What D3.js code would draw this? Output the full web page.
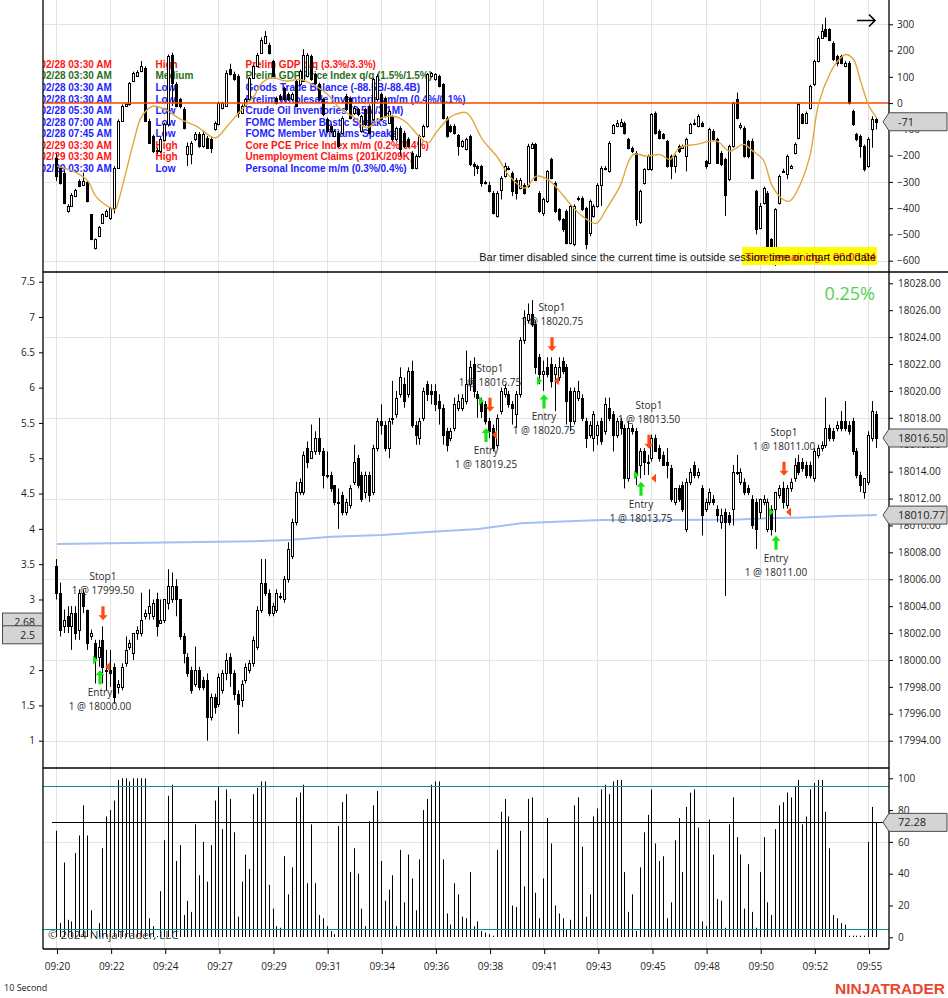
<!DOCTYPE html>
<html>
<head>
<meta charset="utf-8">
<script src="https://cdn.jsdelivr.net/npm/d3@7"></script>
<style>
  body { margin: 0; background: #fff; }
  svg { display: block; }
</style>
</head>
<body>
<svg id="chart" width="948" height="998"></svg>
<script>
// ---- data ----
const timeLabels = ["09:20","09:22","09:24","09:27","09:29","09:31","09:34","09:36","09:38","09:41","09:43","09:45","09:48","09:50","09:52","09:55"];

const eventTimes = ["02/28 03:30 AM","02/28 03:30 AM","02/28 03:30 AM","02/28 03:30 AM","02/28 05:30 AM","02/28 07:00 AM","02/28 07:45 AM","02/29 03:30 AM","02/29 03:30 AM","02/29 03:30 AM"];
const eventImpact = ["High","Medium","Low","Low","Low","Low","Low","High","High","Low"];
const eventNames = ["Prelim GDP q/q (3.3%/3.3%)","Prelim GDP Price Index q/q (1.5%/1.5%)","Goods Trade Balance (-88.5B/-88.4B)","Prelim Wholesale Inventories m/m (0.4%/0.1%)","Crude Oil Inventories (8.5M/3.1M)","FOMC Member Bostic Speaks","FOMC Member Williams Speaks","Core PCE Price Index m/m (0.2%/0.4%)","Unemployment Claims (201K/209K)","Personal Income m/m (0.3%/0.4%)"];

// top oscillator candles [open, high, low, close]
const topBars = [
[-208,-192,-297,-278],[-246,-240,-310,-303],[-265,-258,-385,-379],[-411,-385,-417,-392],[-392,-343,-395,-348],[-354,-326,-358,-331],[-297,-290,-320,-316],[-310,-265,-316,-297],[-301,-296,-378,-373],[-424,-424,-522,-519],
[-551,-515,-557,-519],[-507,-468,-510,-472],[-456,-420,-460,-424],[-430,-405,-434,-411],[-437,-395,-445,-399],[-399,-240,-420,-246],[-246,-62,-250,-68],[-68,-5,-72,-11],[-11,0,-15,-5],[-5,80,-10,77],
[84,120,80,116],[105,125,100,118],[122,160,118,141],[135,140,-72,-68],[-68,-60,-156,-151],[-126,-120,-190,-183],[-183,-170,-195,-178],[-183,-130,-190,-138],[-140,-75,-145,-80],[-80,185,-90,180],
[185,192,-11,78],[71,80,-16,-11],[14,20,-20,-11],[-24,-15,-100,-94],[-195,-150,-240,-164],[-195,-145,-233,-151],[-138,-110,-145,-119],[-119,-110,-170,-164],[-164,-105,-170,-119],[-132,-125,-175,-170],
[-138,-130,-190,-170],[-100,-70,-105,-75],[-81,5,-85,1],[-18,5,-24,1],[-11,125,-15,116],[128,150,105,109],[109,120,85,90],[103,110,-56,-37],[-37,-5,-40,-11],[-11,20,-15,14],
[14,100,10,97],[97,145,94,141],[141,190,138,185],[192,250,188,242],[230,274,225,255],[223,230,185,192],[160,165,98,103],[20,25,-5,1],[27,35,10,14],[58,62,8,14],
[33,40,8,14],[14,40,8,33],[84,88,-16,-11],[71,128,65,122],[84,205,80,185],[103,190,98,185],[179,185,85,90],[109,115,72,78],[71,78,8,14],[14,20,-50,-43],
[-62,-55,-113,-107],[-88,-80,-115,-107],[-126,-100,-130,-107],[-113,-105,-170,-164],[-113,-50,-120,-56],[27,35,-30,-24],[20,25,-62,-56],[-37,-10,-45,-18],[-24,-18,-50,-43],[-107,-45,-113,-50],
[-24,-18,-88,-81],[-11,-5,-120,-113],[-62,95,-68,90],[14,110,8,103],[33,40,-68,-62],[20,25,-56,-50],[-75,-25,-80,-30],[-50,-45,-145,-138],[-138,-90,-145,-94],[-94,-88,-200,-176],
[-113,-105,-170,-164],[-138,-130,-170,-164],[-189,-183,-252,-246],[-246,-195,-252,-202],[-202,-120,-208,-126],[-126,-82,-132,-88],[-88,114,-94,109],[103,118,98,116],[90,114,85,109],[103,108,60,65],
[71,76,-62,-56],[-56,-50,-132,-126],[-88,-82,-113,-107],[-88,-80,-120,-113],[-123,-118,-200,-164],[-164,-140,-170,-145],[-176,-132,-180,-138],[-126,-120,-240,-233],[-230,-225,-278,-240],[-240,-235,-270,-246],
[-240,-235,-318,-303],[-301,-295,-310,-303],[-310,-300,-340,-335],[-341,-335,-424,-418],[-430,-335,-436,-341],[-329,-278,-367,-284],[-278,-227,-284,-240],[-252,-240,-256,-246],[-265,-260,-354,-335],[-291,-285,-367,-341],
[-322,-285,-328,-291],[-310,-305,-348,-341],[-316,-155,-322,-164],[-170,-150,-175,-157],[-157,-152,-297,-291],[-341,-335,-418,-411],[-418,-360,-430,-367],[-373,-255,-380,-259],[-214,-208,-290,-284],[-303,-298,-418,-411],
[-405,-400,-450,-443],[-443,-438,-490,-481],[-411,-405,-538,-532],[-532,-388,-538,-392],[-538,-385,-545,-392],[-361,-355,-372,-367],[-361,-355,-411,-405],[-399,-395,-557,-538],[-494,-367,-507,-373],[-430,-385,-436,-392],
[-392,-305,-398,-310],[-310,-240,-392,-246],[-252,-240,-256,-246],[-259,-145,-265,-151],[-113,-80,-118,-85],[-88,-65,-92,-75],[-88,-60,-92,-72],[-75,-70,-120,-113],[-138,-132,-176,-170],[-170,-165,-190,-183],
[-189,-183,-468,-443],[-453,-330,-460,-335],[-303,-248,-310,-252],[-252,-196,-256,-202],[-252,-38,-258,-43],[-37,-32,-120,-113],[-107,-100,-138,-132],[-119,-114,-138,-132],[-145,-140,-246,-240],[-202,-196,-290,-240],
[-240,-196,-265,-202],[-164,-158,-190,-183],[-170,-158,-175,-164],[-202,-132,-260,-138],[-113,-75,-118,-81],[-75,-62,-85,-75],[-88,-43,-92,-50],[-75,-70,-92,-88],[-221,-216,-250,-240],[-227,-94,-232,-100],
[-107,-100,-145,-138],[-138,-132,-232,-227],[-189,-183,-240,-233],[-214,-208,-430,-348],[-290,-158,-297,-164],[-164,5,-170,1],[14,40,-62,-56],[-91,-75,-100,-84],[-94,-88,-208,-202],[-145,-140,-210,-202],
[-145,-135,-290,-284],[-335,-330,-500,-481],[-475,-380,-480,-392],[-380,-318,-386,-322],[-341,-335,-576,-570],[-519,-514,-580,-570],[-570,-400,-620,-405],[-379,-272,-386,-278],[-259,-250,-265,-259],[-271,-196,-290,-202],
[-246,-235,-250,-240],[-189,-150,-195,-157],[-132,0,-138,-5],[-43,-38,-80,-75],[-75,-32,-80,-37],[-18,70,-24,65],[71,165,65,160],[160,255,155,249],[249,300,245,274],[281,325,250,255],
[281,285,236,242],[230,235,160,166],[179,184,140,154],[179,184,148,154],[141,160,136,154],[154,160,-5,1],[-30,-25,-87,-81],[-119,-113,-145,-138],[-126,-120,-208,-164],[-164,-158,-260,-252],
[-240,-130,-246,-138],[-100,-50,-170,-62],[-62,-55,-100,-71]
];

// orange smoothing line on the top panel (bar index / value)
const smaIdx = [0,5,8,10,13,15,16,18,20,21.5,23,25,28,32,36,41,44,47,51,53,56,59,63,66,70,73,77,80,84,87,90,94,96,98,101,103,106,110,114,117,121,124,127.5,131,134,137,139.5,142,145.6,149,152.5,156,158.5,161,165.4,170.6,174,177.5,180,182.6,185,187.8,189.5,192,194.7,197,200,201.6,204,206,207.7,210,212];
const smaVal = [-240,-265,-297,-354,-392,-405,-367,-253,-138,-62,-30,-11,-24,-62,-88,-132,-88,-37,27,77,97,84,90,71,33,-18,-56,-94,-56,-50,-69,-132,-151,-113,-62,-43,-37,-138,-208,-278,-323,-278,-297,-354,-405,-443,-458,-405,-316,-196,-202,-196,-215,-170,-157,-145,-183,-157,-183,-215,-316,-367,-373,-316,-202,-1,116,154,185,166,90,-11,-56];

// price candles [open, high, low, close]
const mainBars = [
[18007,18007.5,18004.5,18005],[18005,18005.75,18001.75,18002.25],[18002.5,18003.75,18002,18003],[18003.25,18004,18002,18002.5],[18002.5,18004,18000.75,18003.5],[18003.5,18004,18001.5,18002],[18002.25,18005.25,18001.5,18005],[18005,18005.25,18003.5,18004],[18003.75,18003.75,18000.75,18001.25],[18001.75,18002.25,18001.5,18002],
[18001.25,18001.5,17998.25,18000],[18000.25,18001.5,17999.5,18001],[18001.5,18002.5,17998.25,17999.5],[17999.25,18000.75,17997.75,17999.25],[17999.25,18000.75,17998,17999],[17999.5,17999.75,17996.75,17997.25],[17998,17998.5,17997.5,17998.25],[17998,17999.75,17997.75,17999.5],[17999.75,18001.75,17999.5,18000.75],[18001,18001.5,18000.75,18001.25],
[18000.5,18002,18000,18002],[18002,18002.5,18001.5,18002.25],[18002,18005,18001.75,18003],[18003.25,18003.75,18003,18003.5],[18003.5,18005.25,18003,18004],[18003.25,18004.5,18003,18004.25],[18004.5,18005,18001.75,18002.5],[18002.75,18004.5,18002.75,18003],[18003,18004.5,18002.75,18004.5],[18004.25,18006.75,18003.75,18005.5],
[18004.5,18006.5,18004.25,18005.5],[18005.5,18006,18003.25,18004.5],[18004.5,18004.5,18001.5,18001.75],[18001.75,18002,17999.75,18000.5],[18000.25,18000.5,17998.75,17999],[17999.25,17999.5,17997.5,17997.75],[17998.25,18001,17998,17999.25],[17999.25,17999.5,17997.75,17998],[17998.5,17998.75,17997.75,17998],[17998.5,17999,17994,17995.75],
[17995.75,17997.5,17995.5,17997.25],[17997.25,17997.5,17996,17996.5],[17996.75,17999,17996.5,17998.75],[17997.75,17999.25,17997.5,17999],[17999,18000.5,17998.5,18000],[18000.25,18000.5,17998,17999],[17999,17999.25,17997,17997.5],[17997.5,17997.75,17994.5,17996.75],[17997,17998.5,17996.5,17998.25],[17998.5,17999.75,17998.25,17999.5],
[17999.25,18000,17999,17999.75],[17999.75,18001.75,17999.5,18001.5],[18001,18004,18000.75,18003.75],[18003.75,18007.5,18003.5,18005.75],[18005.75,18007.5,18004.75,18005],[18005,18005.25,18003.25,18003.5],[18003.5,18004.25,18003.25,18004],[18003.75,18005.25,18003.5,18005],[18004.75,18005,18004.5,18004.75],[18004.5,18006.25,18004.25,18006],
[18006,18008.75,18005.75,18008.25],[18007.75,18010.5,18007.5,18010.25],[18010.25,18013.25,18010,18012.5],[18012.5,18013.5,18012.25,18013.25],[18012.5,18015.5,18012.25,18015.25],[18015.75,18016.25,18014.25,18014.75],[18015,18017.5,18015,18015.5],[18015.5,18017,18015.25,18016.5],[18016.5,18018,18015.25,18015.5],[18015.5,18015.75,18012.75,18013.75],
[18013.75,18015.5,18013.5,18013.75],[18013.75,18014,18012.5,18012.75],[18013,18013,18011.5,18011.75],[18011.75,18012.75,18009.75,18011.75],[18012.25,18012.5,18010.75,18011],[18011,18012,18010.75,18011.75],[18011.5,18013,18011.25,18012.75],[18013.25,18016,18013,18014.75],[18015,18015.25,18012.75,18013],[18013.75,18014,18011.75,18012],
[18012.5,18014,18012,18013.75],[18013.75,18014,18011.75,18012.25],[18012.5,18016,18012.25,18015.75],[18015.75,18018,18015.5,18017.75],[18017.75,18019,18016.75,18017.5],[18017.5,18017.75,18015.5,18015.75],[18015.75,18018,18015,18017.75],[18018,18020.75,18017.5,18018],[18018.25,18020,18018,18019.5],[18019.75,18021.75,18019.5,18021],
[18020.5,18021,18018.75,18019.25],[18019.75,18021.75,18019.5,18021.5],[18021.5,18022.25,18017.25,18017.5],[18017.5,18017.75,18016,18016.75],[18016.5,18018,18016,18017.75],[18018,18020.25,18017.75,18020],[18020.5,18020.75,18019.25,18019.75],[18020,18020.5,18019,18019.75],[18020,18020.5,18018.5,18019],[18019.25,18019.75,18017.5,18018.75],
[18018.75,18019,18016,18016.75],[18017,18017.25,18015.5,18016],[18016.5,18017.25,18016.25,18017],[18017.25,18019.5,18017,18019],[18018.75,18019.75,18018.5,18019.25],[18018.75,18019.75,18018.5,18019.5],[18019.25,18023,18019,18020.5],[18020.5,18022.25,18020,18021.75],[18022,18022.5,18019.5,18020],[18019.75,18020,18018,18019.5],
[18019.25,18019.5,18018,18018.5],[18019,18019.25,18017.5,18017.75],[18017.75,18018,18016.5,18017],[18017.25,18017.5,18015.5,18015.75],[18016,18018.25,18015.75,18018],[18018.5,18020.25,18018.25,18020],[18019.75,18020.5,18019.5,18020.25],[18019.75,18020,18018.75,18019],[18019,18019.25,18017.5,18018.75],[18018.25,18020,18017.25,18019.75],
[18019.75,18024,18019.5,18023.75],[18023.75,18026,18023.5,18025.5],[18025.25,18026.5,18025,18025.75],[18025.75,18026.75,18024.75,18025],[18025,18025.25,18021.25,18021.75],[18022.5,18022.75,18020.5,18021.25],[18021.25,18022.25,18020,18021.5],[18021.75,18022.5,18021,18021.25],[18022,18022.5,18020.25,18020.75],[18021.25,18022,18018.5,18021.75],
[18021,18022.5,18020.75,18021.75],[18022.25,18022.5,18021.25,18021.5],[18021.75,18022,18017.5,18019.25],[18020,18020.25,18017,18017.75],[18017.75,18020.25,18017.5,18020],[18019.5,18020.75,18019.25,18020],[18019.5,18019.75,18017.75,18018],[18017.75,18018,18015.75,18016.5],[18016.75,18017.75,18016.5,18017.5],[18016.5,18018.5,18015.5,18018.25],
[18016.75,18017.75,18016,18017.5],[18017.75,18018,18016,18016.25],[18017,18019.5,18016.75,18019],[18018.75,18019.5,18017.75,18018],[18018.25,18018.5,18015.5,18016.75],[18016.75,18018,18016.5,18017.75],[18017.75,18018,18016.75,18017.25],[18017.25,18017.5,18012.75,18013.5],[18013.5,18017.75,18013.25,18017.25],[18017.25,18017.5,18016.75,18017],
[18017,18017.25,18013,18013.75],[18014.5,18015.75,18013.5,18015.5],[18015.5,18015.75,18013.75,18014.75],[18014.75,18015.25,18013.75,18014.75],[18015,18016.75,18014.75,18016.5],[18016.5,18016.75,18015.5,18015.5],[18015.75,18016,18014.75,18015],[18015.25,18015.5,18014.5,18014.5],[18014.75,18015.75,18013.5,18014.5],[18014.25,18014.5,18011.75,18012],
[18011.75,18012.75,18011.5,18012.75],[18012.75,18013,18011.75,18012],[18013,18013.25,18011,18011.25],[18009.75,18013.5,18009.5,18013.25],[18013.25,18014.25,18013,18014],[18014.5,18014.75,18013.5,18013.75],[18013.75,18014.25,18013.5,18014],[18012.75,18013,18009.25,18010.75],[18011.25,18012,18011,18011.75],[18011.75,18012.75,18011.5,18012.5],
[18012,18012.25,18011.5,18011.75],[18011.25,18011.5,18010.25,18010.75],[18010.25,18011.25,18009.75,18010.75],[18011,18011.25,18004.75,18010.25],[18010.75,18011,18010,18010.25],[18011.25,18014.5,18010,18014],[18014,18015.25,18013.75,18014],[18013.25,18014.25,18013,18014],[18013.25,18013.5,18012.25,18012.5],[18012.75,18013,18012.25,18012.5],
[18012,18012.25,18009.75,18010],[18011.75,18012,18008.25,18009.75],[18011,18012,18010.5,18012],[18011.75,18012.25,18011.5,18012],[18009.75,18012,18009.5,18011.75],[18011.25,18011.5,18009.25,18009.75],[18011.25,18012.5,18009.5,18012.5],[18012.25,18013,18012,18012.75],[18012.75,18013.25,18011.25,18011.75],[18011.5,18013,18011.25,18012.75],
[18012.75,18013.5,18012.5,18013.25],[18013.5,18015,18013.25,18014.5],[18014.75,18015.25,18013.75,18014],[18014.75,18015,18014,18014.25],[18014.5,18014.75,18013.5,18013.75],[18014.5,18014.75,18013.5,18013.75],[18013.5,18015.75,18013.25,18015.5],[18015.25,18016,18015,18015.75],[18015.75,18016.25,18015.5,18016],[18016,18019.5,18015.75,18017.25],
[18017.25,18017.5,18016.25,18016.5],[18017,18017.25,18016.25,18016.5],[18017.25,18017.75,18017,18017.5],[18017.75,18018.5,18017,18017.25],[18017.75,18019.25,18017,18017.25],[18017.5,18017.75,18016.75,18017],[18017.75,18018,18015.25,18015.5],[18015.5,18015.75,18013.5,18013.75],[18013.75,18014,18012.5,18013],[18012.5,18013.5,18012,18013.5],
[18013.25,18017,18013,18016.75],[18016.5,18019.25,18016.25,18018.5],[18018.25,18018.5,18015.75,18016.5]
];

// blue average line (bar index / price)
const vwapIdx = [0,23,51,60,71,84,97,109,120,129,141,158,176,184,193,202,212];
const vwapVal = [18008.62,18008.71,18008.82,18008.91,18009.16,18009.29,18009.53,18009.73,18010.16,18010.28,18010.40,18010.40,18010.45,18010.53,18010.60,18010.70,18010.77];

// executions
const entryBar = [11, 111, 126, 151, 186];
const entryPrice = [18000.00, 18019.25, 18020.75, 18013.75, 18011.00];
const exitBar = [12, 112, 128, 153, 188];
const exitPrice = [17999.50, 18016.75, 18020.75, 18013.50, 18011.00];

// lower panel histogram
const volume = [
67,9,47,11,10,53,64,83,64,17, 0,9,56,76,80,86,99,100,100,98, 100,100,100,100,12,7,0,29,61,89,
96,48,58,14,23,16,71,39,60,35, 58,86,95,68,93,87,66,13,35,52, 43,90,94,98,98,33,18,7,6,51,
27,44,88,91,96,34,71,34,14,12, 7,4,2,70,85,90,41,56,40,18, 7,73,83,92,48,23,30,39,7,55,
22,52,37,17,49,80,87,96,98,98, 49,15,8,34,27,13,12,41,7,10,
4,3,2,1,55,79,87,76,20,19, 67,32,87,88,28,12,37,75,59,20, 15,12,5,11,83,88,57,13,27,76,
81,93,96,90,98,99,99,41,16,27, 4,44,66,77,93,59,48,51,12,22, 61,75,41,82,91,93,69,10,7,74,
52,24,23,6,71,88,63,52,18,46, 16,6,41,63,22,14,68,83,85,91, 88,95,99,71,76,93,97,99,99,79,
56,14,12,9,8,1,1,1,1,1, 60,82,72.28
];
const volBands = [95, 5];
const leftTags = [2.68, 2.5];
const lastTop = -71, lastMain = 18016.50, lastVwap = 18010.77, lastVol = 72.28;

// ---- layout ----
const X0 = 43, X1 = 889;
const P = { top: [0, 272], main: [272, 768], vol: [768, 949] };
const AX = "Open Sans, Liberation Sans, sans-serif";
const EV = "Liberation Sans, Arial, sans-serif";

const x = d3.scaleLinear().domain([0, 210]).range([57, 869]);
const yTop = d3.scaleLinear().domain([-600, 300]).range([260.7, 24.3]);
const yMain = d3.scaleLinear().domain([17994, 18028]).range([740.7, 283.3]);
const yLeft = d3.scaleLinear().domain([1, 7.5]).range([740.7, 281.7]);
const yVol = d3.scaleLinear().domain([0, 100]).range([937.3, 778.3]);

const svg = d3.select("#chart");
const defs = svg.append("defs");
Object.entries(P).forEach(([k, [a, b]]) => {
  defs.append("clipPath").attr("id", "clip-" + k)
    .append("rect").attr("x", X0).attr("y", a).attr("width", X1 - X0).attr("height", b - a);
});

const px = i => Math.round(x(i)) - 0.5;

// grid
const grid = svg.append("g").attr("stroke", "#e3e3e3").attr("stroke-width", 1);
d3.range(0, 211, 14).forEach(i => {
  grid.append("line").attr("x1", px(i)).attr("x2", px(i)).attr("y1", 0).attr("y2", 949);
});
[300, -300, -600].forEach(v => grid.append("line").attr("x1", X0).attr("x2", X1)
  .attr("y1", Math.round(yTop(v)) + 0.5).attr("y2", Math.round(yTop(v)) + 0.5));
d3.range(17994, 18029, 6).forEach(v => grid.append("line").attr("x1", X0).attr("x2", X1)
  .attr("y1", Math.round(yMain(v)) + 0.5).attr("y2", Math.round(yMain(v)) + 0.5));
[60].forEach(v => grid.append("line").attr("x1", X0).attr("x2", X1)
  .attr("y1", Math.round(yVol(v)) + 0.5).attr("y2", Math.round(yVol(v)) + 0.5));

function drawCandles(g, bars, y) {
  const c = g.selectAll("g.c").data(bars).join("g").attr("class", "c");
  c.append("line")
    .attr("x1", (d, i) => px(i)).attr("x2", (d, i) => px(i))
    .attr("y1", d => y(d[1])).attr("y2", d => y(d[2]))
    .attr("stroke", "#000").attr("stroke-width", 1);
  c.append("rect")
    .attr("x", (d, i) => Math.round(x(i)) - 1.5)
    .attr("width", 2)
    .attr("y", d => Math.round(y(Math.max(d[0], d[3]))) + 0.5)
    .attr("height", d => Math.max(1, Math.round(y(Math.min(d[0], d[3]))) - Math.round(y(Math.max(d[0], d[3])))))
    .attr("fill", d => d[3] >= d[0] ? "#fff" : "#000")
    .attr("stroke", "#000").attr("stroke-width", 1);
}

// ---- top panel ----
const gTop = svg.append("g").attr("clip-path", "url(#clip-top)");
const impactColor = { High: "#ff1414", Medium: "#2a6e1a", Low: "#2323ff" };
const evG = gTop.append("g").attr("font-family", EV).attr("font-size", 10).attr("font-weight", "bold");
eventTimes.forEach((t, k) => {
  const yy = 64.3 + k * 11.55 + 3.6;
  const col = impactColor[eventImpact[k]];
  evG.append("text").attr("x", 40.5).attr("y", yy).attr("fill", col).text(t);
  evG.append("text").attr("x", 155.5).attr("y", yy).attr("fill", col).text(eventImpact[k]);
  evG.append("text").attr("x", 245.5).attr("y", yy).attr("fill", col).text(eventNames[k]);
});
drawCandles(gTop.append("g"), topBars, yTop);
gTop.append("line").attr("x1", X0).attr("x2", X1)
  .attr("y1", yTop(0)).attr("y2", yTop(0))
  .attr("stroke", "#ff4500").attr("stroke-width", 1.5);
gTop.append("path")
  .datum(smaIdx.map((d, k) => [d, smaVal[k]]))
  .attr("fill", "none").attr("stroke", "#e0a83c").attr("stroke-width", 1.4)
  .attr("d", d3.line().x(d => x(d[0])).y(d => yTop(d[1])).curve(d3.curveCatmullRom));

// timer messages
gTop.append("rect").attr("x", 742).attr("y", 247).attr("width", 135).attr("height", 18).attr("fill", "#ffff00");
gTop.append("text").attr("x", 745).attr("y", 260.5).attr("fill", "#ff2020")
  .attr("font-family", EV).attr("font-size", 11).text("Time remaining = 00:00:04");
gTop.append("text").attr("x", 876).attr("y", 260.5).attr("text-anchor", "end").attr("fill", "#111")
  .attr("font-family", EV).attr("font-size", 11)
  .text("Bar timer disabled since the current time is outside session time or chart end date");
// scroll arrow
svg.append("path").attr("d", "M857,20.5 H875 M869,14.5 L875,20.5 L869,26.5")
  .attr("fill", "none").attr("stroke", "#000").attr("stroke-width", 1.6);

// ---- main panel ----
const gMain = svg.append("g").attr("clip-path", "url(#clip-main)");
gMain.append("path")
  .datum(vwapIdx.map((d, k) => [d, vwapVal[k]]))
  .attr("fill", "none").attr("stroke", "#a3c0f3").attr("stroke-width", 2)
  .attr("d", d3.line().x(d => x(d[0])).y(d => yMain(d[1])));
drawCandles(gMain.append("g"), mainBars, yMain);

gMain.append("text").attr("x", 875).attr("y", 300).attr("text-anchor", "end")
  .attr("fill", "#52d152").attr("font-family", AX).attr("font-size", 18).text("0.25%");

const GREEN = "#14e614", RED = "#ff4a12";
const upArrow = "M0,0 L4.5,5 L1.6,5 L1.6,14 L-1.6,14 L-1.6,5 L-4.5,5 Z";
const downArrow = "M0,0 L4.5,-5 L1.6,-5 L1.6,-14 L-1.6,-14 L-1.6,-5 L-4.5,-5 Z";
const mk = gMain.append("g").attr("font-family", AX).attr("font-size", 10).attr("fill", "#2a2a2a");
entryBar.forEach((b, k) => {
  const ex = exitBar[k];
  // entry
  const xe = Math.round(x(b));
  const ye = yMain(mainBars[b][2]) + 3.5;
  mk.append("path").attr("d", upArrow).attr("transform", `translate(${xe},${ye})`).attr("fill", GREEN);
  mk.append("text").attr("x", xe).attr("y", ye + 26).attr("text-anchor", "middle").text("Entry");
  mk.append("text").attr("x", xe).attr("y", ye + 40).attr("text-anchor", "middle").text("1 @ " + entryPrice[k].toFixed(2));
  const yp = yMain(entryPrice[k]);
  mk.append("path").attr("d", `M${xe - 7},${yp - 4.5} L${xe - 2},${yp} L${xe - 7},${yp + 4.5} Z`).attr("fill", GREEN);
  // exit
  const xs = Math.round(x(ex));
  const ys = yMain(mainBars[ex][1]) - 6;
  mk.append("path").attr("d", downArrow).attr("transform", `translate(${xs},${ys})`).attr("fill", RED);
  mk.append("text").attr("x", xs).attr("y", ys - 40).attr("text-anchor", "middle").text("Stop1");
  mk.append("text").attr("x", xs).attr("y", ys - 26).attr("text-anchor", "middle").text("1 @ " + exitPrice[k].toFixed(2));
  const yq = yMain(exitPrice[k]);
  mk.append("path").attr("d", `M${xs + 7},${yq - 4.5} L${xs + 2},${yq} L${xs + 7},${yq + 4.5} Z`).attr("fill", RED);
});

// ---- lower panel ----
const gVol = svg.append("g").attr("clip-path", "url(#clip-vol)");
gVol.selectAll("line.v").data(volume).join("line").attr("class", "v")
  .attr("x1", (d, i) => px(i)).attr("x2", (d, i) => px(i))
  .attr("y1", Math.round(yVol(0))).attr("y2", d => Math.min(Math.round(yVol(0)) - 1, yVol(d)))
  .attr("stroke", "#000").attr("stroke-width", 1);
volBands.forEach(v => gVol.append("line").attr("x1", X0).attr("x2", X1)
  .attr("y1", Math.round(yVol(v)) + 0.5).attr("y2", Math.round(yVol(v)) + 0.5)
  .attr("stroke", "#0a8f8f").attr("stroke-width", 1.2));
gVol.append("line").attr("x1", 52).attr("x2", X1)
  .attr("y1", Math.round(yVol(lastVol)) + 0.5).attr("y2", Math.round(yVol(lastVol)) + 0.5)
  .attr("stroke", "#000").attr("stroke-width", 1.2);
gVol.append("text").attr("x", 48).attr("y", 939).attr("fill", "#3a3a3a")
  .attr("font-family", AX).attr("font-size", 11.5).text("\u00A9 2024 NinjaTrader, LLC");

// ---- frames ----
const fr = svg.append("g").attr("stroke", "#000").attr("stroke-width", 1.3);
fr.append("line").attr("x1", X0).attr("x2", X0).attr("y1", 0).attr("y2", 949);
fr.append("line").attr("x1", X1).attr("x2", X1).attr("y1", 0).attr("y2", 949);
fr.append("line").attr("x1", X0).attr("x2", 948).attr("y1", 272).attr("y2", 272);
fr.append("line").attr("x1", X0).attr("x2", X1).attr("y1", 768).attr("y2", 768);
fr.append("line").attr("x1", X0).attr("x2", X1).attr("y1", 949).attr("y2", 949);

// ---- axes ----
function styleAxis(g) {
  g.select(".domain").remove();
  g.attr("font-family", AX).attr("font-size", 10);
  g.selectAll("text").attr("fill", "#1e1e1e");
  g.selectAll("line").attr("stroke", "#000");
}
svg.append("g").attr("transform", `translate(${X1},0)`)
  .call(d3.axisRight(yTop).tickValues(d3.range(-600, 301, 100)).tickSize(4).tickPadding(4).tickFormat(d3.format("d")))
  .call(styleAxis);
svg.append("g").attr("transform", `translate(${X1},0)`)
  .call(d3.axisRight(yMain).tickValues(d3.range(17994, 18029, 2)).tickSize(4).tickPadding(5).tickFormat(d3.format(".2f")))
  .call(styleAxis);
svg.append("g").attr("transform", `translate(${X0},0)`)
  .call(d3.axisLeft(yLeft).tickValues(d3.range(1, 7.51, 0.5)).tickSize(4).tickPadding(4).tickFormat(d => String(+d.toFixed(1))))
  .call(styleAxis);
svg.append("g").attr("transform", `translate(${X1},0)`)
  .call(d3.axisRight(yVol).tickValues(d3.range(0, 101, 20)).tickSize(4).tickPadding(5))
  .call(styleAxis);
svg.append("g").attr("transform", "translate(0,949)")
  .call(d3.axisBottom(x).tickValues(d3.range(0, 211, 14)).tickSize(5).tickPadding(9).tickFormat((d, i) => timeLabels[i]))
  .call(styleAxis);

// ---- value tags ----
function rightTag(yv, label) {
  const h = 18, g = svg.append("g");
  g.append("path")
    .attr("d", `M883,${yv} L889,${yv - h / 2} L947,${yv - h / 2} L947,${yv + h / 2} L889,${yv + h / 2} Z`)
    .attr("fill", "#d4d4d4").attr("stroke", "#4a4a4a").attr("stroke-width", 1);
  g.append("text").attr("x", 898).attr("y", yv + 4).attr("font-family", AX).attr("font-size", 11)
    .attr("fill", "#1e1e1e").text(label);
}
rightTag(yTop(lastTop), String(lastTop));
rightTag(yMain(lastMain), lastMain.toFixed(2));
rightTag(yMain(lastVwap), lastVwap.toFixed(2));
rightTag(yVol(lastVol), lastVol.toFixed(2));

leftTags.forEach(v => {
  const yv = yLeft(v), g = svg.append("g");
  g.append("rect").attr("x", 2.5).attr("y", yv - 9).attr("width", 40).attr("height", 18)
    .attr("fill", "#d4d4d4").attr("stroke", "#4a4a4a").attr("stroke-width", 1);
  g.append("text").attr("x", 35).attr("y", yv + 4).attr("text-anchor", "end")
    .attr("font-family", AX).attr("font-size", 10.5).attr("fill", "#1e1e1e").text(String(v));
});

// ---- footer ----
svg.append("text").attr("x", 4).attr("y", 991).attr("font-family", AX).attr("font-size", 9)
  .attr("fill", "#222").text("10 Second");
svg.append("text").attr("x", 945).attr("y", 994).attr("text-anchor", "end")
  .attr("font-family", EV).attr("font-weight", "bold").attr("font-size", 15.5)
  .attr("fill", "#e8482c").text("NINJATRADER");
</script>
</body>
</html>
